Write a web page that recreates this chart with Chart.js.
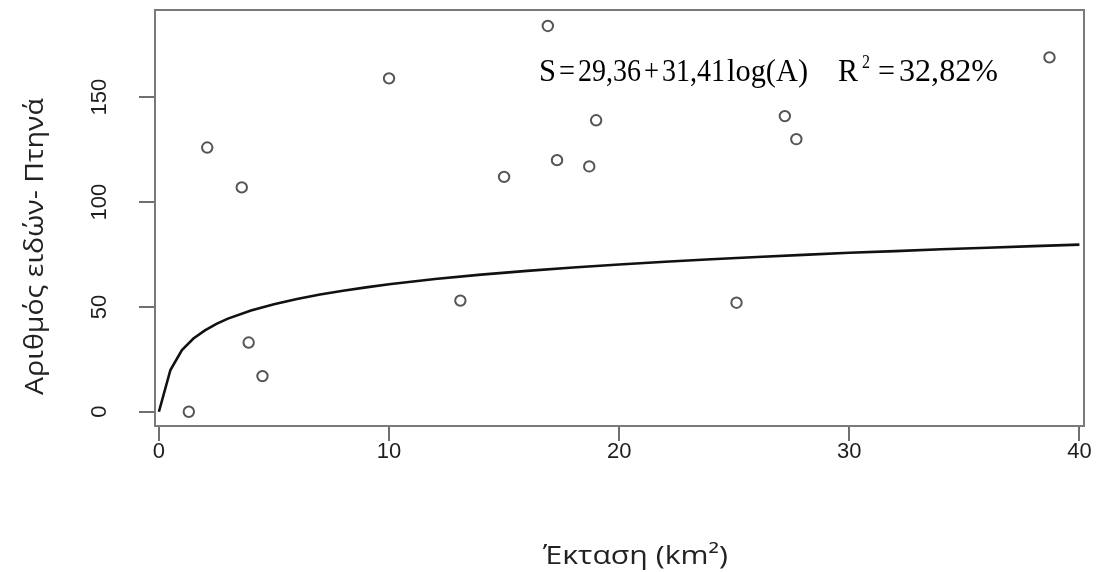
<!DOCTYPE html>
<html>
<head>
<meta charset="utf-8">
<script src="https://cdn.jsdelivr.net/npm/chart.js@4.4.1/dist/chart.umd.min.js"></script>
<style>
  html, body { margin: 0; padding: 0; background: #ffffff; }
  #wrap { width: 1099px; height: 572px; }
</style>
</head>
<body>
<div id="wrap"><canvas id="c" width="1099" height="572"></canvas></div>
<script>
// ---- data ----
const areaX    = [1.3, 2.1, 3.6, 3.9, 4.5, 10.0, 13.1, 15.0, 16.9, 17.3, 18.7, 19.0, 25.1, 27.2, 27.7, 38.7];
const speciesY = [0, 126, 107, 33, 17, 159, 53, 112, 184, 120, 117, 139, 52, 141, 130, 169];

const curveX = [0, 0.5, 1, 1.5, 2, 2.5, 3, 4, 5, 6, 7, 8, 9, 10, 12, 14, 16, 18, 20, 22, 24, 26, 28, 30, 32, 34, 36, 38, 40];
const curveY = [0, 19.9, 29.4, 34.9, 38.8, 41.9, 44.4, 48.3, 51.3, 53.8, 55.9, 57.7, 59.3, 60.8, 63.3, 65.4, 67.2, 68.8, 70.2, 71.5, 72.7, 73.8, 74.8, 75.8, 76.6, 77.5, 78.2, 79.0, 79.7];

const xTicks = [0, 10, 20, 30, 40];
const yTicks = [0, 50, 100, 150];

const xTitle = 'Έκταση (km²)';
const yTitle = 'Αριθμός ειδών- Πτηνά';
// equation tokens: text, left px, right px (typeset positions)
const eqTokens = [
  ['S', 539, 556], ['=', 559, 575], ['29,36', 578, 641], ['+', 644, 659],
  ['31,41', 662, 725], ['log(A)', 727, 808], ['R', 838, 858],
  ['=', 878, 895], ['32,82%', 899, 998]
];
const eqSup = ['2', 862, 870];

const pts = areaX.map((x, i) => ({ x: x, y: speciesY[i] }));
const curve = curveX.map((x, i) => ({ x: x, y: curveY[i] }));

function fitText(ctx, str, x0, x1, base, vScale) {
  const w = ctx.measureText(str).width;
  ctx.save();
  ctx.translate(x0, base);
  ctx.scale((x1 - x0) / w, vScale);
  ctx.fillText(str, 0, 0);
  ctx.restore();
}

const framePlugin = {
  id: 'frame',
  afterDraw(chart) {
    const ctx = chart.ctx;
    const a = chart.chartArea;
    const ys = chart.scales.y;
    ctx.save();
    // box
    ctx.strokeStyle = '#7a7a7a';
    ctx.lineWidth = 2;
    ctx.strokeRect(a.left, a.top, a.right - a.left, a.bottom - a.top);
    // y tick labels (rotated, R style)
    ctx.fillStyle = '#1e1e1e';
    ctx.font = '22px "Liberation Sans", Arial, sans-serif';
    ctx.textAlign = 'center';
    ctx.textBaseline = 'middle';
    yTicks.forEach(v => {
      const py = ys.getPixelForValue(v);
      ctx.save();
      ctx.translate(100, py);
      ctx.rotate(-Math.PI / 2);
      ctx.fillText(String(v), 0, 0);
      ctx.restore();
    });
    // axis titles
    ctx.fillStyle = '#222222';
    ctx.font = '26px "Open Sans", "Noto Sans", sans-serif';
    ctx.textAlign = 'left';
    ctx.textBaseline = 'alphabetic';
    fitText(ctx, xTitle, 543, 728, 564, 1);
    ctx.save();
    ctx.translate(43, 395);
    ctx.rotate(-Math.PI / 2);
    fitText(ctx, yTitle, 0, 297, 0, 1);
    ctx.restore();
    // equation
    ctx.fillStyle = '#000000';
    ctx.font = '28px "Liberation Serif", "Times New Roman", serif';
    eqTokens.forEach(t => fitText(ctx, t[0], t[1], t[2], 81, 1.15));
    ctx.font = '17px "Liberation Serif", "Times New Roman", serif';
    fitText(ctx, eqSup[0], eqSup[1], eqSup[2], 68, 1.1);
    ctx.restore();
  }
};

new Chart(document.getElementById('c'), {
  type: 'scatter',
  data: {
    datasets: [
      {
        type: 'line',
        data: curve,
        borderColor: '#111111',
        borderWidth: 2.6,
        pointRadius: 0,
        tension: 0,
        fill: false,
        order: 2
      },
      {
        data: pts,
        pointRadius: 5.2,
        pointBorderWidth: 2,
        pointBorderColor: '#555555',
        pointBackgroundColor: 'rgba(255,255,255,0)',
        showLine: false,
        order: 1
      }
    ]
  },
  options: {
    responsive: false,
    devicePixelRatio: 1,
    animation: false,
    layout: { padding: { left: 0, top: 10, right: 15, bottom: 0 } },
    plugins: { legend: { display: false }, tooltip: { enabled: false } },
    scales: {
      x: {
        type: 'linear',
        min: -0.17,
        max: 40.2,
        afterBuildTicks: s => { s.ticks = xTicks.map(v => ({ value: v })); },
        afterFit: s => { s.height = 146; },
        grid: { drawOnChartArea: false, drawTicks: true, tickLength: 15, color: '#707070', lineWidth: 2 },
        border: { display: false },
        ticks: {
          color: '#1e1e1e',
          font: { family: '"Liberation Sans", Arial, sans-serif', size: 22 },
          padding: -2,
          maxRotation: 0,
          autoSkip: false
        }
      },
      y: {
        type: 'linear',
        min: -6.8,
        max: 191.6,
        afterBuildTicks: s => { s.ticks = yTicks.map(v => ({ value: v })); },
        afterFit: s => { s.width = 155; },
        grid: { drawOnChartArea: false, drawTicks: true, tickLength: 16, color: '#707070', lineWidth: 2 },
        border: { display: false },
        ticks: { display: false }
      }
    }
  },
  plugins: [framePlugin]
});
</script>
</body>
</html>
